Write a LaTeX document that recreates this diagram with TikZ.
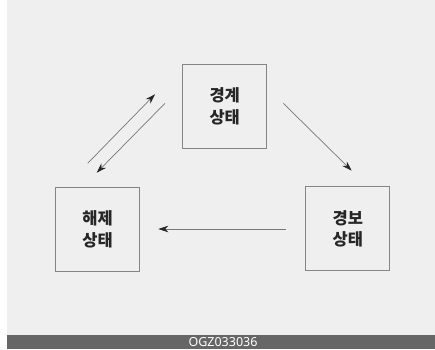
\documentclass[tikz,border=0pt]{standalone}
\usepackage{fontspec}
\setmainfont{Noto Sans}
\newfontfamily\kr{Noto Sans CJK KR}
\usetikzlibrary{arrows.meta}
\definecolor{bg}{HTML}{EFEFEF}
\definecolor{bar}{HTML}{666666}
\definecolor{boxline}{HTML}{858585}
\definecolor{arrline}{HTML}{777777}
\tikzset{
  statebox/.style={draw=boxline, line width=0.9pt, minimum width=84pt, minimum height=84pt,
    inner sep=0pt, align=center, font=\kr\bfseries\fontsize{16.5pt}{21.5pt}\selectfont, text=black!85},
  conn/.style={draw=arrline, line width=0.7pt, -{Stealth[length=10pt,width=6.5pt,color=black!85]}}
}
\begin{document}
\begin{tikzpicture}[x=1pt,y=-1pt]
\useasboundingbox (0,0) rectangle (435,349);
\fill[white] (0,0) rectangle (435,349);
\fill[bg] (7,0) rectangle (435,335);
\fill[bar] (7,335) rectangle (435,349);
\node[text=white, font=\fontsize{12.5pt}{12.5pt}\selectfont, inner sep=0pt] (code) at (223,342) {OGZ033036};
\node[statebox] (warn) at (224.7,106.5) {경계\\상태};
\node[statebox] (off) at (97.5,229.3) {해제\\상태};
\node[statebox] (alarm) at (347.8,228.8) {경보\\상태};
\coordinate (a1s) at (87.7,163.3);
\coordinate (a1e) at (155,94.3);
\coordinate (a2s) at (165,103.3);
\coordinate (a2e) at (96.7,172.7);
\coordinate (a3s) at (283.3,103.3);
\coordinate (a3e) at (351.7,170.7);
\coordinate (a4s) at (286,229);
\coordinate (a4e) at (158.3,229);
\draw[conn] (a1s) -- (a1e);
\draw[conn] (a2s) -- (a2e);
\draw[conn] (a3s) -- (a3e);
\draw[conn] (a4s) -- (a4e);
\end{tikzpicture}
\end{document}
